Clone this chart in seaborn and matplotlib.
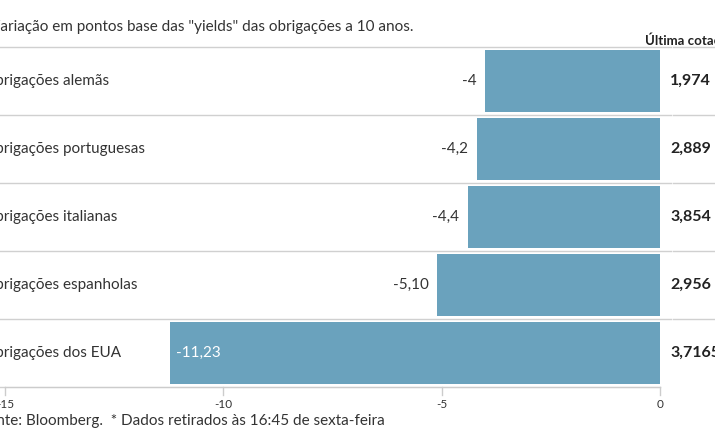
import matplotlib
matplotlib.use("Agg")
import matplotlib.pyplot as plt
import seaborn as sns
import pandas as pd

categories = ["Obrigações alemãs", "Obrigações portuguesas", "Obrigações italianas",
              "Obrigações espanholas", "Obrigações dos EUA"]
values = [-4.0, -4.2, -4.4, -5.10, -11.23]
value_labels = ["-4", "-4,2", "-4,4", "-5,10", "-11,23"]
last_quote = ["1,974", "2,889", "3,854", "2,956", "3,7165"]
ticks = [-15, -10, -5, 0]
tick_labels = ["-15", "-10", "-5", "0"]

plt.rcParams["font.family"] = "Lato"
df = pd.DataFrame({"cat": categories, "val": values})

W, H = 715, 445
fig = plt.figure(figsize=(W/100, H/100), dpi=100)
ax = fig.add_axes([5/W, 58/H, 655/W, 340/H])
sns.barplot(data=df, x="val", y="cat", color="#6aa2bd", saturation=1, width=0.9, ax=ax, orient="h")
ax.set_xlim(-15, 0)
ax.set_ylim(4.5, -0.5)
ax.set_xticks(ticks)
ax.set_xticklabels(tick_labels, fontsize=8.5, color="#333333")
ax.tick_params(axis="x", length=0, pad=9)
ax.set_yticks([])
ax.set_xlabel(""); ax.set_ylabel("")
for s in ["top", "right", "left"]:
    ax.spines[s].set_visible(False)
ax.spines["bottom"].set_color("#cccccc")
for t in ticks:
    ax.plot([t, t], [4.5, 4.62], color="#cccccc", lw=1, clip_on=False)

tr = ax.get_yaxis_transform()
for i, (v, lab, q, c) in enumerate(zip(values, value_labels, last_quote, categories)):
    ax.text(-15.5, i, c, fontsize=11, color="#333333", va="center", ha="left")
    if v < -8:
        ax.text(v + 0.15, i, lab, fontsize=11, color="white", va="center", ha="left")
    else:
        ax.text(v - 0.2, i, lab, fontsize=11, color="#333333", va="center", ha="right")
    ax.text(665/655, i, q, transform=tr, fontsize=11.5, fontweight="bold",
            color="#222222", va="center", ha="left")
    ax.plot([-16, 0.25], [i - 0.5, i - 0.5], color="#d0d0d0", lw=1, clip_on=False)
    ax.plot([0.3, 2], [i - 0.5, i - 0.5], color="#d0d0d0", lw=1, clip_on=False)
ax.plot([-16, 0], [4.5, 4.5], color="#d0d0d0", lw=1, clip_on=False)

fig.text(-10/W, 1 - 27/H, "Variação em pontos base das \"yields\" das obrigações a 10 anos.",
         fontsize=11, color="#333333", va="center", ha="left")
fig.text(645/W, 1 - 40/H, "Última cotação*", fontsize=9.5, fontweight="bold",
         color="#222222", va="center", ha="left")
fig.text(-21/W, 1 - 421/H, "Fonte: Bloomberg.  * Dados retirados às 16:45 de sexta-feira",
         fontsize=11, color="#333333", va="center", ha="left")
fig.savefig("out.png", dpi=100)
